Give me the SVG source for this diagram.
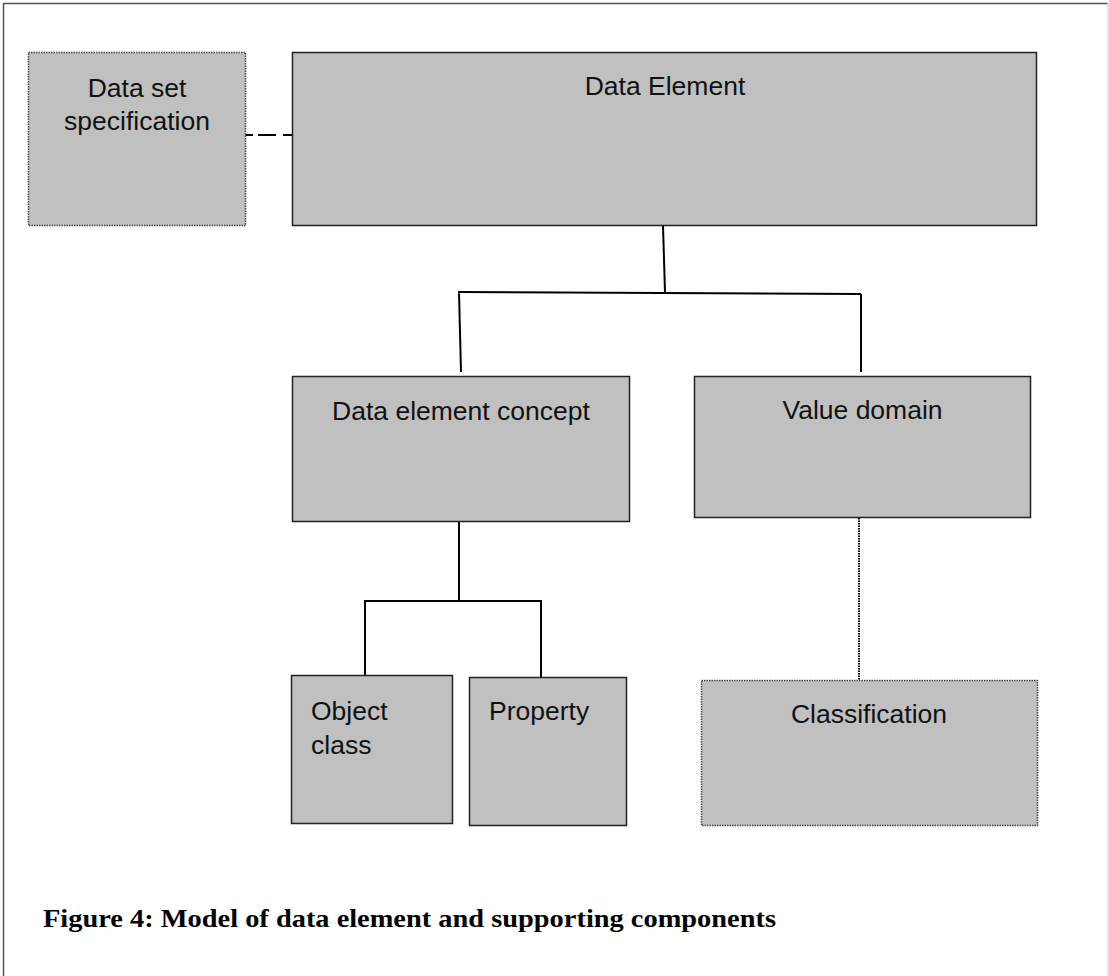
<svg xmlns="http://www.w3.org/2000/svg" width="1109" height="976" viewBox="0 0 1109 976">
<style>
.box{fill:#c0c0c0;stroke:#222;stroke-width:1.5}
.dot{fill:#c0c0c0;stroke:#444;stroke-width:1.5;stroke-dasharray:1.5 1}
.lbl{font-family:"Liberation Sans",Arial,sans-serif;font-size:26.5px;fill:#111}
.c{text-anchor:middle}
.ln{stroke:#000;stroke-width:2;fill:none}
.dl{stroke:#000;stroke-width:2;fill:none;stroke-dasharray:1.5 1}
</style>
<rect x="0" y="0" width="1109" height="976" fill="#fff"/>
<path d="M3.5 976 V3.5 H1108" fill="none" stroke="#555" stroke-width="1.5"/>
<path d="M1108 3.5 V976" fill="none" stroke="#ddd" stroke-width="1.5"/>
<g id="connectors">
<path class="ln" d="M243 135 H253 M258 135 H276 M283 135 H292"/>
<path class="ln" d="M663 226 L665 292 M458 292 L861 294 M459 292 L461 372 M861 294 V372"/>
<path class="ln" d="M459 522 V601 M364 601 H542 M365 601 V677 M541 601 V677"/>
<path class="dl" d="M859 518 V680"/>
</g>
<g id="dataset">
<rect class="dot" x="28.5" y="52.5" width="217" height="173"/>
<text class="lbl c" x="137" y="97">Data set</text>
<text class="lbl c" x="137" y="130">specification</text>
</g>
<g id="dataelement">
<rect class="box" x="292.5" y="52.5" width="744" height="173"/>
<text class="lbl c" x="665" y="95">Data Element</text>
</g>
<g id="dec">
<rect class="box" x="292.5" y="376.5" width="337" height="145"/>
<text class="lbl c" x="461" y="420">Data element concept</text>
</g>
<g id="valuedomain">
<rect class="box" x="694.5" y="376.5" width="336" height="141"/>
<text class="lbl c" x="862.5" y="419">Value domain</text>
</g>
<g id="objectclass">
<rect class="box" x="291.5" y="675.5" width="161" height="148"/>
<text class="lbl" x="311" y="720">Object</text>
<text class="lbl" x="311" y="754">class</text>
</g>
<g id="property">
<rect class="box" x="469.5" y="677.5" width="157" height="148"/>
<text class="lbl" x="489" y="720">Property</text>
</g>
<g id="classification">
<rect class="dot" x="701.5" y="680.5" width="336" height="145"/>
<text class="lbl c" x="869" y="723">Classification</text>
</g>
<text x="43" y="927" font-family="'Liberation Serif','Times New Roman',serif" font-weight="bold" font-size="26" textLength="733" lengthAdjust="spacingAndGlyphs" fill="#000">Figure 4: Model of data element and supporting components</text>
</svg>
